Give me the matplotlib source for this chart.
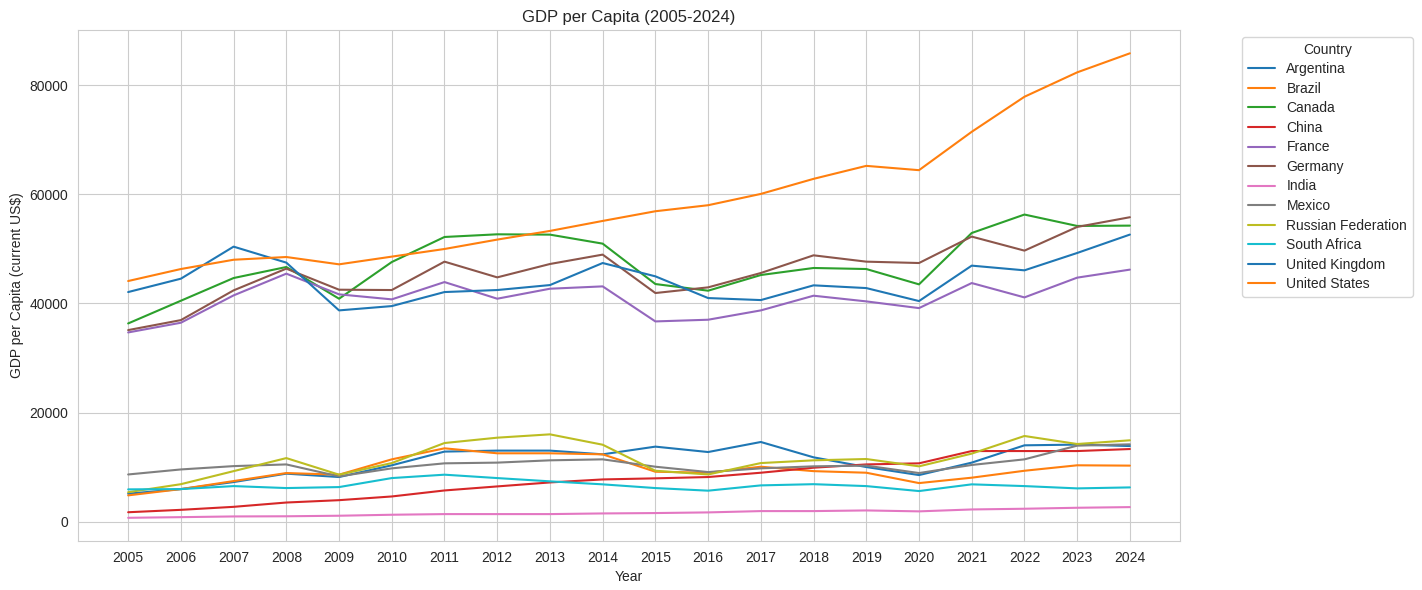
import numpy as np
import matplotlib
matplotlib.use('Agg')
import matplotlib.pyplot as plt
import seaborn as sns

years = list(range(2005, 2025))

argentina = [5140, 5980, 7270, 8810, 8190, 10340, 12850, 13030, 13030, 12350,
             13760, 12770, 14610, 11800, 10020, 8550, 10830, 14000, 14130, 13870]
brazil = [4830, 5980, 7450, 8920, 8620, 11430, 13450, 12540, 12540, 12350,
          9160, 8980, 10080, 9270, 8980, 7080, 8070, 9340, 10340, 10280]
canada = [36330, 40490, 44650, 46670, 40860, 47580, 52170, 52660, 52600, 50950,
          43550, 42330, 45200, 46490, 46300, 43490, 52900, 56280, 54190, 54250]
china = [1740, 2180, 2730, 3520, 3950, 4630, 5730, 6470, 7200, 7750,
         7950, 8190, 8980, 9900, 10500, 10700, 12950, 12950, 12950, 13320]
france = [34680, 36460, 41470, 45450, 41660, 40740, 43910, 40860, 42690, 43120,
          36700, 37010, 38720, 41410, 40370, 39140, 43730, 41100, 44720, 46190]
germany = [35110, 36940, 42390, 46370, 42510, 42450, 47650, 44770, 47220, 48940,
           41900, 42940, 45570, 48810, 47650, 47400, 52240, 49670, 54010, 55790]
india = [720, 840, 970, 1000, 1100, 1280, 1400, 1400, 1400, 1520,
         1590, 1710, 1950, 1950, 2070, 1900, 2250, 2380, 2560, 2680]
mexico = [8660, 9580, 10190, 10500, 8310, 9780, 10700, 10830, 11250, 11430,
          10080, 9100, 9780, 10150, 10280, 8920, 10400, 11430, 13940, 14180]
russia = [5410, 6880, 9270, 11660, 8620, 10750, 14420, 15400, 16010, 14110,
          9340, 8660, 10750, 11250, 11490, 10150, 12480, 15710, 14240, 14920]
south_africa = [5930, 5980, 6530, 6170, 6350, 8000, 8620, 8000, 7400, 6850,
                6170, 5690, 6660, 6880, 6530, 5620, 6850, 6530, 6110, 6290]
uk = [42080, 44530, 50400, 47470, 38720, 39510, 42080, 42450, 43360, 47400,
      44960, 40980, 40610, 43310, 42810, 40430, 46920, 46060, 49240, 52610]
us = [44100, 46300, 48000, 48500, 47160, 48570, 49970, 51690, 53280, 55110,
      56885, 57990, 60060, 62820, 65200, 64410, 71440, 77860, 82330, 85820]

countries = ['Argentina', 'Brazil', 'Canada', 'China', 'France', 'Germany',
             'India', 'Mexico', 'Russian Federation', 'South Africa',
             'United Kingdom', 'United States']
series = [argentina, brazil, canada, china, france, germany,
          india, mexico, russia, south_africa, uk, us]

sns.set_style('whitegrid')
plt.rcParams['font.family'] = ['Liberation Sans', 'DejaVu Sans']

fig = plt.figure(figsize=(14.22, 5.9), dpi=100)
ax = fig.add_subplot(111)
fig.subplots_adjust(left=0.0549, right=0.8298, top=0.949, bottom=0.083)

colors = sns.color_palette('tab10', 10)
for n, (name, vals) in enumerate(zip(countries, series)):
    ax.plot(years, vals, color=colors[n % 10], label=name, linewidth=1.5)

ax.set_xticks(years)
ax.set_title('GDP per Capita (2005-2024)')
ax.set_xlabel('Year')
ax.set_ylabel('GDP per Capita (current US$)')
ax.legend(title='Country', bbox_to_anchor=(1.05, 1), loc='upper left',
          labelspacing=0.4)

plt.savefig('out.png', dpi=100)
